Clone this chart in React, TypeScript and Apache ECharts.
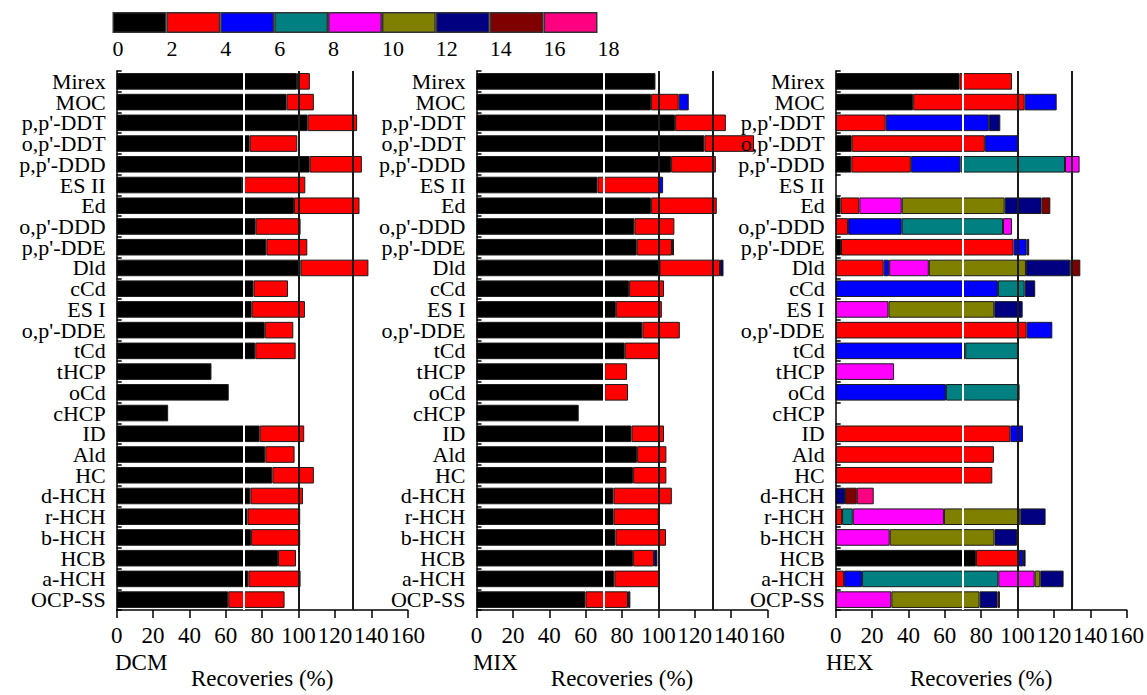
import React, { useEffect, useRef } from "react";
import * as echarts from "echarts";

// ---------- data ----------
const categories = [
  "Mirex", "MOC", "p,p'-DDT", "o,p'-DDT", "p,p'-DDD", "ES II", "Ed", "o,p'-DDD", "p,p'-DDE", "Dld",
  "cCd", "ES I", "o,p'-DDE", "tCd", "tHCP", "oCd", "cHCP", "ID", "Ald", "HC",
  "d-HCH", "r-HCH", "b-HCH", "HCB", "a-HCH", "OCP-SS",
];

const fractionNames = ["F1", "F2", "F3", "F4", "F5", "F6", "F7", "F8", "F9"];
const fractionColors = ["#000000", "#ff0000", "#0000ff", "#008080", "#ff00ff", "#808000", "#000080", "#800000", "#ff0080"];
const legendSteps = [2, 2, 2, 2, 2, 2, 2, 2, 2];

// DCM
const dcmF1 = [99.1, 93.4, 105, 73.1, 106.1, 68.9, 97.5, 76.4, 82.3, 101.1, 75.2, 74.2, 81.4, 76.2, 52.1, 61.6, 28.3, 78.6, 81.7, 85.6, 73.5, 71.9, 73.9, 88.7, 72.4, 61.3];
const dcmF2 = [7.1, 15, 27.2, 26.2, 28.7, 34.8, 36, 24.7, 22.5, 37.3, 19, 29.3, 15.7, 22.2, 0, 0, 0, 24.5, 16.1, 22.8, 28.9, 29, 27, 9.9, 28.7, 31];

// MIX
const mixF1 = [98.4, 96, 109.2, 125.3, 107, 66.5, 96, 86.8, 88.1, 100.6, 83.9, 76.6, 91.2, 81.5, 70.3, 70.3, 56.2, 85.2, 88.3, 86.1, 75.3, 75.4, 76.4, 86.1, 75.8, 59.9];
const mixF2 = [0, 15.2, 27.9, 27.3, 24.6, 33.9, 36.1, 22, 19.4, 33.3, 19.2, 25.3, 20.6, 19.1, 12.5, 13, 0, 17.9, 16.1, 18.3, 32.1, 24.8, 27.8, 11.5, 25, 23.4];
const mixF3 = [0, 5.5, 0, 0, 0, 2.2, 0, 0, 0, 0, 0, 0, 0, 0, 0, 0, 0, 0, 0, 0, 0, 0, 0, 0, 0, 0];
const mixF7 = [0, 0, 0, 0, 0, 0, 0, 0, 1.1, 1.9, 0, 0, 0, 0, 0, 0, 0, 0, 0, 0, 0, 0, 0, 1.9, 0, 1.3];

// HEX
const hexF1 = [68.1, 42.6, 0, 8.8, 8.6, 0, 2.7, 0, 2.9, 0, 0, 0, 0, 0, 0, 0, 0, 0, 0, 0, 0, 0, 0, 77.1, 0, 0];
const hexF2 = [28.8, 61.3, 27.5, 73.2, 32.7, 0, 10.3, 6.8, 94.9, 26.4, 0, 0, 105, 0, 0, 0, 0, 96, 87, 86.1, 0, 3.5, 0, 23.7, 4.6, 0];
const hexF3 = [0, 17.6, 56.7, 18.2, 27.3, 0, 0, 29.5, 7.2, 3, 89.2, 0, 14.1, 71.2, 0, 60.6, 0, 7, 0, 0, 0, 0, 0, 2.2, 9.9, 0];
const hexF4 = [0, 0, 0, 0, 57.5, 0, 0, 55.7, 0, 0, 14.7, 0, 0, 29, 0, 40.5, 0, 0, 0, 0, 0, 5.9, 0, 0, 74.9, 0];
const hexF5 = [0, 0, 0, 0, 8, 0, 23.3, 4.9, 0, 21.8, 0, 29, 0, 0, 32.1, 0, 0, 0, 0, 0, 0, 50.1, 29.7, 0, 20, 30.6];
const hexF6 = [0, 0, 0, 0, 0, 0, 56.6, 0, 0, 53.4, 0, 58.2, 0, 0, 0, 0, 0, 0, 0, 0, 0, 42, 57.6, 0, 3.1, 48.5];
const hexF7 = [0, 0, 6.3, 0, 0, 0, 20.3, 0, 1.4, 24.4, 5.8, 15.6, 0, 0, 0, 0, 0, 0, 0, 0, 5.1, 13.9, 12.4, 1.4, 12.8, 9.9];
const hexF8 = [0, 0, 0, 0, 0, 0, 4.8, 0, 0, 5.5, 0, 0, 0, 0, 0, 0, 0, 0, 0, 0, 6.5, 0, 0, 0, 0, 1.3];
const hexF9 = [0, 0, 0, 0, 0, 0, 0, 0, 0, 0, 0, 0, 0, 0, 0, 0, 0, 0, 0, 0, 9.3, 0, 0, 0, 0, 0];

const panelNames = ["DCM", "MIX", "HEX"];
const panelFractions: (number[] | null)[][] = [
  [dcmF1, dcmF2],
  [mixF1, mixF2, mixF3, null, null, null, mixF7],
  [hexF1, hexF2, hexF3, hexF4, hexF5, hexF6, hexF7, hexF8, hexF9],
];
const refLines = [70, 100, 130];
const xTicks = { min: 0, max: 160, interval: 20 };

// ---------- layout ----------
const FONT = "Liberation Serif";
const gridLefts = [116.7, 476.5, 835.7];
const gridWidth = 291;
const gridTop = 71;
const gridHeight = 539;

export default function App() {
  const ref = useRef<HTMLDivElement>(null);

  useEffect(() => {
    if (!ref.current) return;
    const chart = echarts.init(ref.current, undefined, { renderer: "svg" });

    const grids: any[] = gridLefts.map((l) => ({ left: l, top: gridTop, width: gridWidth, height: gridHeight, containLabel: false }));
    grids.push({ left: 112.5, top: 12, width: 485, height: 21 });

    const xAxes: any[] = gridLefts.map((_, i) => ({
      type: "value",
      gridIndex: i,
      min: xTicks.min,
      max: xTicks.max,
      interval: xTicks.interval,
      axisLine: { show: true, onZero: false, lineStyle: { color: "#000", width: 1.5 } },
      axisTick: { show: true, inside: false, length: 8, lineStyle: { color: "#000", width: 1.5 } },
      splitLine: { show: false },
      axisLabel: { color: "#000", fontFamily: FONT, fontSize: 23, margin: 14, hideOverlap: false, showMinLabel: true, showMaxLabel: true },
      name: "Recoveries (%)",
      nameLocation: "middle",
      nameGap: 57,
      nameTextStyle: { color: "#000", fontFamily: FONT, fontSize: 23 },
    }));
    xAxes.push({
      type: "value",
      gridIndex: 3,
      min: 0,
      max: 18,
      interval: 2,
      axisLine: { show: false },
      axisTick: { show: false },
      splitLine: { show: false },
      axisLabel: { color: "#000", fontFamily: FONT, fontSize: 22, margin: 4, align: "left", showMinLabel: true, showMaxLabel: true },
    });

    const yAxes: any[] = gridLefts.map((_, i) => ({
      type: "category",
      gridIndex: i,
      data: categories,
      inverse: true,
      z: 4,
      axisLine: { show: true, lineStyle: { color: "#000", width: 1.5 } },
      axisTick: { show: true, inside: true, length: 5, alignWithLabel: false, lineStyle: { color: "#000", width: 1.5 } },
      axisLabel: { color: "#000", fontFamily: FONT, fontSize: 22, margin: 11, interval: 0 },
      splitLine: { show: false },
    }));
    yAxes.push({ type: "category", gridIndex: 3, data: ["legend"], show: false });

    const series: any[] = [];
    panelFractions.forEach((fracs, p) => {
      let first = true;
      fracs.forEach((arr, f) => {
        if (!arr) return;
        const s: any = {
          type: "bar",
          name: `${panelNames[p]} ${fractionNames[f]}`,
          xAxisIndex: p,
          yAxisIndex: p,
          stack: "panel" + p,
          barWidth: "80%",
          data: arr.map((v) => (v > 0 ? v : "-")),
          itemStyle: { color: fractionColors[f], borderColor: "#1a1a1a", borderWidth: 1 },
        };
        if (first) {
          s.markLine = {
            silent: true,
            symbol: "none",
            label: { show: false },
            z: 5,
            data: refLines.map((v) => ({
              xAxis: v,
              lineStyle: { color: v === 70 ? "#ffffff" : "#1a1a1a", width: 2, type: "solid" },
            })),
          };
          first = false;
        }
        series.push(s);
      });
    });
    legendSteps.forEach((w, i) => {
      series.push({
        type: "bar",
        name: "legend " + fractionNames[i],
        xAxisIndex: 3,
        yAxisIndex: 3,
        stack: "legend",
        barWidth: "100%",
        data: [w],
        itemStyle: { color: fractionColors[i], borderColor: "#333", borderWidth: 1.5 },
      });
    });

    const panelLabelX = [115, 473, 826];
    chart.setOption({
      animation: false,
      backgroundColor: "#ffffff",
      grid: grids,
      xAxis: xAxes,
      yAxis: yAxes,
      series,
      graphic: panelNames.map((n, i) => ({
        type: "text",
        left: panelLabelX[i],
        top: 651,
        style: { text: n, fill: "#000", fontFamily: FONT, fontSize: 23 },
      })),
    });

    return () => chart.dispose();
  }, []);

  return <div ref={ref} style={{ position: "absolute", left: 0, top: 0, width: 1147, height: 695 }} />;
}
